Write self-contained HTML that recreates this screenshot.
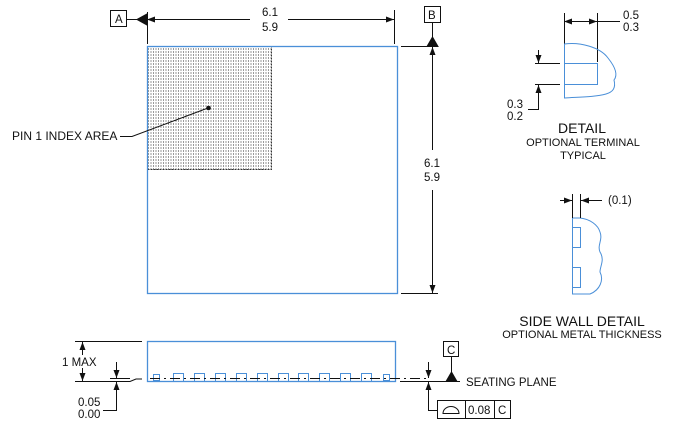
<!DOCTYPE html>
<html><head><meta charset="utf-8"><style>
html,body{margin:0;padding:0;background:#fff}
svg{display:block}
text{font-family:"Liberation Sans",sans-serif;fill:#111}
</style></head><body>
<svg width="684" height="439" viewBox="0 0 684 439" xmlns="http://www.w3.org/2000/svg">
<defs>
<pattern id="dots" width="2.5" height="3" patternUnits="userSpaceOnUse">
<rect x="0.5" y="0.5" width="1" height="1" fill="#333"/>
</pattern>
<marker id="ar" markerWidth="8" markerHeight="6" refX="8" refY="3" orient="auto" markerUnits="userSpaceOnUse">
<path d="M0,0 L8,3 L0,6 z" fill="#111"/></marker>
</defs>
<g stroke="#111" stroke-width="1" fill="none">
<rect x="147.5" y="46.5" width="124" height="123" fill="url(#dots)" stroke="#333" stroke-dasharray="2,1"/>
<rect x="147.5" y="46.5" width="250" height="247" stroke="#4a8fd8" stroke-width="1.3"/>
<rect x="110.5" y="10.5" width="16" height="16"/>
<line x1="127" y1="19.5" x2="137" y2="19.5"/>
<line x1="147.5" y1="12" x2="147.5" y2="44"/>
<line x1="394.5" y1="10" x2="394.5" y2="44"/>
<line x1="180" y1="19.5" x2="147" y2="19.5" marker-end="url(#ar)"/>
<line x1="280" y1="19.5" x2="394" y2="19.5" marker-end="url(#ar)"/>
<line x1="180" y1="19.5" x2="250" y2="19.5"/>
<path d="M137,19.5 L147,14 L147,25 z" fill="#111"/>
<rect x="424.5" y="6.5" width="16" height="16"/>
<line x1="432.5" y1="23" x2="432.5" y2="38"/>
<path d="M427,46.5 L432.5,37 L438,46.5 z" fill="#111"/>
<line x1="401" y1="46.5" x2="432" y2="46.5"/>
<line x1="401" y1="293.5" x2="438" y2="293.5"/>
<line x1="432.5" y1="150" x2="432.5" y2="47" marker-end="url(#ar)"/>
<line x1="432.5" y1="190" x2="432.5" y2="293" marker-end="url(#ar)"/>
<polyline points="120,136.5 132,136.5 208,108"/>
<circle cx="208.5" cy="108" r="1.8" fill="#111"/>
<rect x="147.5" y="341.5" width="248" height="40" stroke="#4a8fd8" stroke-width="1.3"/>
<g stroke="#4a8fd8">
<rect x="153.5" y="374.5" width="6" height="6"/>
<rect x="173.5" y="373.5" width="10" height="8"/>
<rect x="194.5" y="373.5" width="10" height="8"/>
<rect x="215.5" y="373.5" width="10" height="8"/>
<rect x="236.5" y="373.5" width="10" height="8"/>
<rect x="257.5" y="373.5" width="10" height="8"/>
<rect x="278.5" y="373.5" width="10" height="8"/>
<rect x="298.5" y="373.5" width="10" height="8"/>
<rect x="319.5" y="373.5" width="10" height="8"/>
<rect x="340.5" y="373.5" width="10" height="8"/>
<rect x="361.5" y="373.5" width="10" height="8"/>
<rect x="383.5" y="374.5" width="6" height="6"/>
</g>
<line x1="150" y1="378.5" x2="430" y2="378.5" stroke-dasharray="10,4,2,4"/>
<line x1="75" y1="341.5" x2="142" y2="341.5"/>
<polyline points="75,381.5 130,381.5 136,379 142,379"/>
<line x1="82.5" y1="355" x2="82.5" y2="342" marker-end="url(#ar)"/>
<line x1="82.5" y1="368" x2="82.5" y2="381" marker-end="url(#ar)"/>
<line x1="110" y1="378.5" x2="130" y2="378.5"/>
<line x1="116.5" y1="362" x2="116.5" y2="378" marker-end="url(#ar)"/>
<polyline points="103,410.5 116.5,410.5 116.5,391"/>
<line x1="116.5" y1="392" x2="116.5" y2="382" marker-end="url(#ar)"/>
<line x1="400" y1="381.5" x2="460" y2="381.5"/>
<rect x="443.5" y="341.5" width="15" height="15"/>
<line x1="451.5" y1="357" x2="451.5" y2="372"/>
<path d="M446,381.5 L451.5,372 L457,381.5 z" fill="#111"/>
<line x1="428.5" y1="362" x2="428.5" y2="378" marker-end="url(#ar)"/>
<polyline points="437,410.5 428.5,410.5 428.5,391"/>
<line x1="428.5" y1="392" x2="428.5" y2="382" marker-end="url(#ar)"/>
<rect x="437.5" y="400.5" width="73" height="18"/>
<line x1="465.5" y1="400" x2="465.5" y2="419"/>
<line x1="494.5" y1="400" x2="494.5" y2="419"/>
<path d="M443,413.5 A8,7 0 0 1 459,413.5 z"/>
<line x1="564.5" y1="13" x2="564.5" y2="44"/>
<line x1="597.5" y1="13" x2="597.5" y2="62"/>
<line x1="576" y1="21.5" x2="564" y2="21.5" marker-end="url(#ar)"/>
<line x1="585" y1="21.5" x2="597" y2="21.5" marker-end="url(#ar)"/>
<line x1="576" y1="21.5" x2="620" y2="21.5"/>
<line x1="535" y1="63.5" x2="560" y2="63.5"/>
<line x1="535" y1="84.5" x2="560" y2="84.5"/>
<line x1="538.5" y1="50" x2="538.5" y2="63" marker-end="url(#ar)"/>
<polyline points="528,109.5 538.5,109.5 538.5,84.5"/>
<line x1="538.5" y1="98" x2="538.5" y2="85" marker-end="url(#ar)"/>
<g stroke="#4a8fd8">
<path d="M564.5,44 C580,42 600,47 608,58 C616,68 618,75 614,80 C616,88 613,92 606,94 C595,97 580,97 564.5,98 Z"/>
<rect x="564.5" y="63.5" width="33" height="21"/>
<path d="M572.5,218 L580,218 C590,219 598,225 600,232 C603,240 597,245 600,252 C605,260 600,266 600,272 C604,280 600,290 590,294 L572.5,294 Z"/>
<rect x="572.5" y="227.5" width="8" height="20"/>
<rect x="572.5" y="267.5" width="8" height="20"/>
</g>
<line x1="572.5" y1="194" x2="572.5" y2="218"/>
<line x1="580.5" y1="194" x2="580.5" y2="218"/>
<line x1="560" y1="200.5" x2="572" y2="200.5" marker-end="url(#ar)"/>
<line x1="602" y1="200.5" x2="581" y2="200.5" marker-end="url(#ar)"/>
</g>
<rect x="422" y="156" width="22" height="28" fill="#fff"/>
<rect x="252" y="8" width="36" height="28" fill="#fff"/>
<g font-size="11.5">
<text x="115" y="23">A</text>
<text x="428" y="19">B</text>
<text x="447" y="354">C</text>
<text x="262" y="16">6.1</text>
<text x="262" y="31">5.9</text>
<text x="424" y="167">6.1</text>
<text x="424" y="181">5.9</text>
<text x="12" y="140" font-size="12">PIN 1 INDEX AREA</text>
<text x="62" y="366">1 MAX</text>
<text x="78" y="406">0.05</text>
<text x="78" y="418">0.00</text>
<text x="466" y="386">SEATING PLANE</text>
<text x="468" y="414">0.08</text>
<text x="498" y="414">C</text>
<text x="623" y="19">0.5</text>
<text x="623" y="31">0.3</text>
<text x="507" y="108">0.3</text>
<text x="507" y="120">0.2</text>
<text x="608" y="204">(0.1)</text>
<text x="582" y="133" font-size="14" text-anchor="middle">DETAIL</text>
<text x="583" y="146" font-size="11" text-anchor="middle">OPTIONAL TERMINAL</text>
<text x="583" y="159" font-size="11" text-anchor="middle">TYPICAL</text>
<text x="582" y="326" font-size="14" text-anchor="middle">SIDE WALL DETAIL</text>
<text x="582" y="338" font-size="11" text-anchor="middle">OPTIONAL METAL THICKNESS</text>
</g>
</svg>
</body></html>
